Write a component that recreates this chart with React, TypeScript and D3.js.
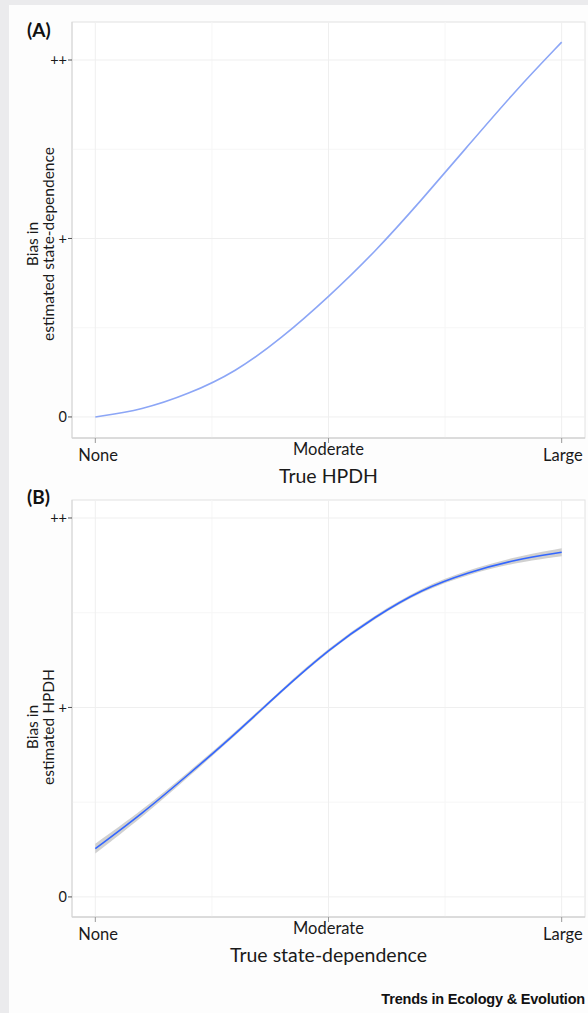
import React, { useEffect, useRef } from "react";
import * as d3 from "d3";

// x positions (None = 0, Moderate = 0.5, Large = 1)
const xSteps = [0, 0.1, 0.2, 0.3, 0.4, 0.5, 0.6, 0.7, 0.8, 0.9, 1.0];
const xTickValues = [0, 0.5, 1];
const xTickLabels = ["None", "Moderate", "Large"];
const yTickValues = [0, 1, 2];
const yTickLabels = ["0", "+", "++"];

// panel A: bias in estimated state-dependence vs true HPDH
const biasA = [0, 0.039, 0.128, 0.25, 0.442, 0.672, 0.925, 1.217, 1.522, 1.826, 2.1];
// panel B: bias in estimated HPDH vs true state-dependence (+ band half width)
const biasB = [0.255, 0.438, 0.647, 0.859, 1.09, 1.306, 1.48, 1.624, 1.714, 1.78, 1.819];
const seB = [0.026, 0.019, 0.013, 0.01, 0.009, 0.009, 0.009, 0.01, 0.012, 0.016, 0.021];

const W = 588;
const H = 1013;
const FONT = "Lato, 'Open Sans', sans-serif";

function drawPanel(svg, opts) {
  const { top, bottom, left, right, yDomain, values, se, lineColor, label, labelY, xTitle, yTitle, yTitleCenter } = opts;
  const x = d3.scaleLinear().domain([-0.05, 1.05]).range([left, right]);
  const y = d3.scaleLinear().domain(yDomain).range([bottom, top]);
  const g = svg.append("g");

  // frame
  g.append("rect")
    .attr("x", left).attr("y", top)
    .attr("width", right - left).attr("height", bottom - top)
    .attr("fill", "#ffffff").attr("stroke", "#e2e2e2").attr("stroke-width", 1);

  // minor grid
  [0.25, 0.75].forEach((v) => {
    g.append("line").attr("x1", x(v)).attr("x2", x(v)).attr("y1", top).attr("y2", bottom)
      .attr("stroke", "#f6f6f6").attr("stroke-width", 1);
  });
  [0.5, 1.5].forEach((v) => {
    g.append("line").attr("x1", left).attr("x2", right).attr("y1", y(v)).attr("y2", y(v))
      .attr("stroke", "#f6f6f6").attr("stroke-width", 1);
  });
  // major grid
  xTickValues.forEach((v) => {
    g.append("line").attr("x1", x(v)).attr("x2", x(v)).attr("y1", top).attr("y2", bottom)
      .attr("stroke", "#efefef").attr("stroke-width", 1);
  });
  yTickValues.forEach((v) => {
    g.append("line").attr("x1", left).attr("x2", right).attr("y1", y(v)).attr("y2", y(v))
      .attr("stroke", "#efefef").attr("stroke-width", 1);
  });

  // axis lines
  g.append("line").attr("x1", left).attr("x2", right).attr("y1", bottom).attr("y2", bottom)
    .attr("stroke", "#c8c8c8").attr("stroke-width", 1.2);
  g.append("line").attr("x1", left).attr("x2", left).attr("y1", top).attr("y2", bottom)
    .attr("stroke", "#d6d6d6").attr("stroke-width", 1);

  // x ticks
  xTickValues.forEach((v, i) => {
    g.append("line").attr("x1", x(v)).attr("x2", x(v)).attr("y1", bottom).attr("y2", bottom + 5)
      .attr("stroke", "#9a9a9a").attr("stroke-width", 1);
    g.append("text").attr("x", x(v)).attr("y", bottom + (i === 1 ? 17 : 23))
      .attr("text-anchor", i === 2 ? "end" : i === 0 ? "start" : "middle")
      .attr("dx", i === 2 ? 21 : i === 0 ? -17 : 0)
      .attr("font-family", FONT).attr("font-size", 16.5).attr("fill", "#1a1a1a")
      .text(xTickLabels[i]);
  });

  // y ticks
  yTickValues.forEach((v, i) => {
    g.append("line").attr("x1", left - 4).attr("x2", left).attr("y1", y(v)).attr("y2", y(v))
      .attr("stroke", "#555").attr("stroke-width", 1);
    g.append("text").attr("x", left - 5).attr("y", y(v)).attr("dy", "0.35em")
      .attr("text-anchor", "end")
      .attr("font-family", FONT).attr("font-size", 14.5).attr("fill", "#1a1a1a")
      .text(yTickLabels[i]);
  });

  // titles
  g.append("text").attr("x", x(0.5)).attr("y", bottom + 45)
    .attr("text-anchor", "middle").attr("font-family", FONT).attr("font-size", 19.5).attr("fill", "#1a1a1a")
    .text(xTitle);
  const yt = g.append("text")
    .attr("transform", `translate(0,${yTitleCenter}) rotate(-90)`)
    .attr("text-anchor", "middle").attr("font-family", FONT).attr("font-size", 15.5).attr("fill", "#1a1a1a");
  yt.append("tspan").attr("x", 0).attr("y", 38).text(yTitle[0]);
  yt.append("tspan").attr("x", 0).attr("y", 54).text(yTitle[1]);

  g.append("text").attr("x", 27).attr("y", labelY)
    .attr("font-family", FONT).attr("font-weight", "bold").attr("font-size", 19).attr("fill", "#111")
    .text(label);

  const data = xSteps.map((v, i) => ({ x: v, y: values[i], s: se ? se[i] : 0 }));
  if (se) {
    const band = d3.area()
      .x((d) => x(d.x)).y0((d) => y(d.y - d.s)).y1((d) => y(d.y + d.s))
      .curve(d3.curveBasis);
    g.append("path").datum(data).attr("d", band).attr("fill", "#a9a9a9").attr("fill-opacity", 0.55);
  }
  const line = d3.line().x((d) => x(d.x)).y((d) => y(d.y)).curve(d3.curveBasis);
  g.append("path").datum(data).attr("d", line)
    .attr("fill", "none").attr("stroke", lineColor).attr("stroke-width", 1.6);
}

function App() {
  const svgRef = useRef(null);
  useEffect(() => {
    const svg = d3.select(svgRef.current);
    svg.selectAll("*").remove();
    svg.append("rect").attr("width", W).attr("height", H).attr("fill", "#ebebed");
    svg.append("rect").attr("x", 9).attr("y", 5).attr("width", W - 9).attr("height", H - 5).attr("fill", "#fdfdfd");

    drawPanel(svg, {
      top: 22, bottom: 438, left: 72, right: 585,
      yDomain: [-0.118, 2.213], values: biasA, se: null, lineColor: "#8ca6f6",
      label: "(A)", labelY: 37, xTitle: "True HPDH",
      yTitle: ["Bias in", "estimated state-dependence"], yTitleCenter: 244,
    });
    drawPanel(svg, {
      top: 500, bottom: 917, left: 72, right: 585,
      yDomain: [-0.106, 2.095], values: biasB, se: seB, lineColor: "#3366ff",
      label: "(B)", labelY: 504, xTitle: "True state-dependence",
      yTitle: ["Bias in", "estimated HPDH"], yTitleCenter: 727,
    });

    svg.append("text").attr("x", 585).attr("y", 1004).attr("text-anchor", "end")
      .attr("font-family", "'Liberation Sans', Arial, sans-serif").attr("font-weight", "bold")
      .attr("font-size", 14.5).attr("letter-spacing", -0.2).attr("fill", "#111")
      .text("Trends in Ecology & Evolution");
  }, []);

  return (
    <svg ref={svgRef} width={W} height={H} style={{ position: "absolute", left: 0, top: 0 }}></svg>
  );
}

export default App;
